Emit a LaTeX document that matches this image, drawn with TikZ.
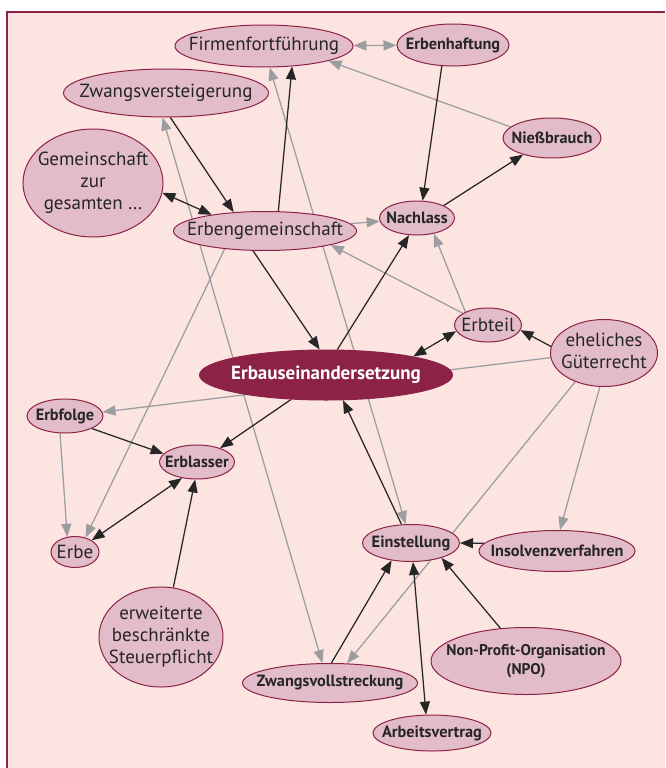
\documentclass[tikz,border=0pt]{standalone}
\usepackage{fontspec}
\setmainfont{PT Sans}
\usetikzlibrary{arrows.meta, shapes.geometric, backgrounds}
\definecolor{framepink}{RGB}{252,228,225}
\definecolor{bubble}{RGB}{226,188,201}
\definecolor{wine}{RGB}{140,35,70}
\definecolor{ink}{RGB}{38,38,38}
\definecolor{linkgray}{RGB}{155,157,160}
\pgfdeclarelayer{links}
\pgfsetlayers{background,links,main}
% label helpers: text gets no width, the ellipse size is set by hand
\newcommand{\one}[1]{\makebox[0pt]{#1}}
\newcommand{\stack}[1]{\makebox[0pt]{\begin{tabular}{@{}c@{}}#1\end{tabular}}}
\tikzset{
  topic/.style={ellipse, draw=wine, line width=1pt, fill=bubble, text=ink, inner sep=0pt, font=\fontsize{19}{22}\selectfont},
  keyterm/.style={topic, font=\bfseries\fontsize{16.3}{19.5}\selectfont},
  hub/.style={topic, fill=wine, text=white, font=\bfseries\fontsize{19}{22}\selectfont},
  tie/.style={draw=ink, line width=1.25pt},
  hint/.style={draw=linkgray, line width=1.25pt}
}

\begin{document}
\begin{tikzpicture}[x=1pt, y=-1pt, >={Triangle[length=13pt, width=10pt]}]
    \useasboundingbox (0,0) rectangle (665,768);

    % frame
    \begin{pgfonlayer}{background}
      \fill[white] (0,0) rectangle (665,768);
      \fill[framepink] (7,12) rectangle (665,768);
      \draw[wine, line width=2.4pt] (665,12.2) -- (7.2,12.2) -- (7.2,768);
    \end{pgfonlayer}

    % topics
    \node[topic, minimum width=178pt, minimum height=42pt] (firm) at (264,46) {\one{Firmenfortführung}};
    \node[keyterm, minimum width=112pt, minimum height=42pt] (haftung) at (453,45) {\one{Erbenhaftung}};
    \node[topic, minimum width=205pt, minimum height=48pt] (versteig) at (166,93) {\one{Zwangsversteigerung}};
    \node[keyterm, minimum width=98pt, minimum height=40pt] (niess) at (552,138) {\one{Nießbrauch}};
    \node[topic, minimum width=140pt, minimum height=108pt] (gemein) at (93,183) {\stack{Gemeinschaft\\zur\\gesamten …}};
    \node[topic, minimum width=183pt, minimum height=39pt] (erbgem) at (265,231) {\one{Erbengemeinschaft}};
    \node[keyterm, minimum width=75pt, minimum height=34pt] (nachlass) at (417,218) {\one{Nachlass}};
    \node[topic, minimum width=67pt, minimum height=34pt] (erbteil) at (488,325) {\one{Erbteil}};
    \node[topic, minimum width=107pt, minimum height=67pt] (gueter) at (604,353) {\stack{eheliches\\Güterrecht}};
    \node[hub, minimum width=253pt, minimum height=50pt] (ausein) at (326,375) {\one{Erbauseinandersetzung}};
    \node[keyterm, minimum width=76pt, minimum height=34pt] (erbfolge) at (65,416) {\one{Erbfolge}};
    \node[keyterm, minimum width=75pt, minimum height=34pt] (erblasser) at (197,462) {\one{Erblasser}};
    \node[topic, minimum width=48pt, minimum height=31pt] (erbe) at (75,552) {\one{Erbe}};
    \node[topic, minimum width=124pt, minimum height=100pt] (steuer) at (161,637) {\stack{erweiterte\\beschränkte\\Steuerpflicht}};
    \node[keyterm, minimum width=97pt, minimum height=37pt] (einst) at (411,543) {\one{Einstellung}};
    \node[keyterm, minimum width=156pt, minimum height=41pt] (insolv) at (557,551) {\one{Insolvenzverfahren}};
    \node[keyterm, minimum width=190pt, minimum height=67pt, font=\bfseries\fontsize{15.5}{19.5}\selectfont] (npo) at (526,661) {\stack{Non-Profit-Organisation\\(NPO)}};
    \node[keyterm, minimum width=175pt, minimum height=39pt] (vollstr) at (330,683) {\one{Zwangsvollstreckung}};
    \node[keyterm, minimum width=118pt, minimum height=36pt] (arbeit) at (432,733) {\one{Arbeitsvertrag}};

    \begin{pgfonlayer}{links}
      % grey references
      \foreach \a/\b in {niess.165/firm.-13, erbgem/nachlass, erbteil.155/erbgem.-12, erbteil.150/nachlass.-43, gueter.185/erbfolge.6, erbfolge.-106/erbe.117, erbgem.204/erbe.54, gueter.-97/insolv.82, gueter.-135/vollstr.49}
        \draw[hint, ->] (\a) -- (\b);
      \foreach \a/\b in {firm/haftung, versteig.-98/vollstr.111, firm.-75/einst.106}
        \draw[hint, <->] (\a) -- (\b);

      % dark links
      \foreach \a/\b in {haftung.-118/nachlass.72, nachlass.25/niess.-150, versteig.-80/erbgem.149, erbgem.56/firm.-36, erbgem.-121/ausein.104, ausein.66/nachlass.-115, gueter.173/erbteil.-9, ausein.-145/erblasser.31, erbfolge.-25/erblasser.166, steuer.76/erblasser.-96, einst.117/ausein.-56, insolv.174/einst.0, npo.128/einst.-26, vollstr.86/einst.-138}
        \draw[tie, ->] (\a) -- (\b);
      \foreach \a/\b in {gemein.-8/erbgem.163, erbteil.191/ausein.12, erbe.35/erblasser.-133, einst.-84/arbeit.108}
        \draw[tie, <->] (\a) -- (\b);
    \end{pgfonlayer}
\end{tikzpicture}
\end{document}
